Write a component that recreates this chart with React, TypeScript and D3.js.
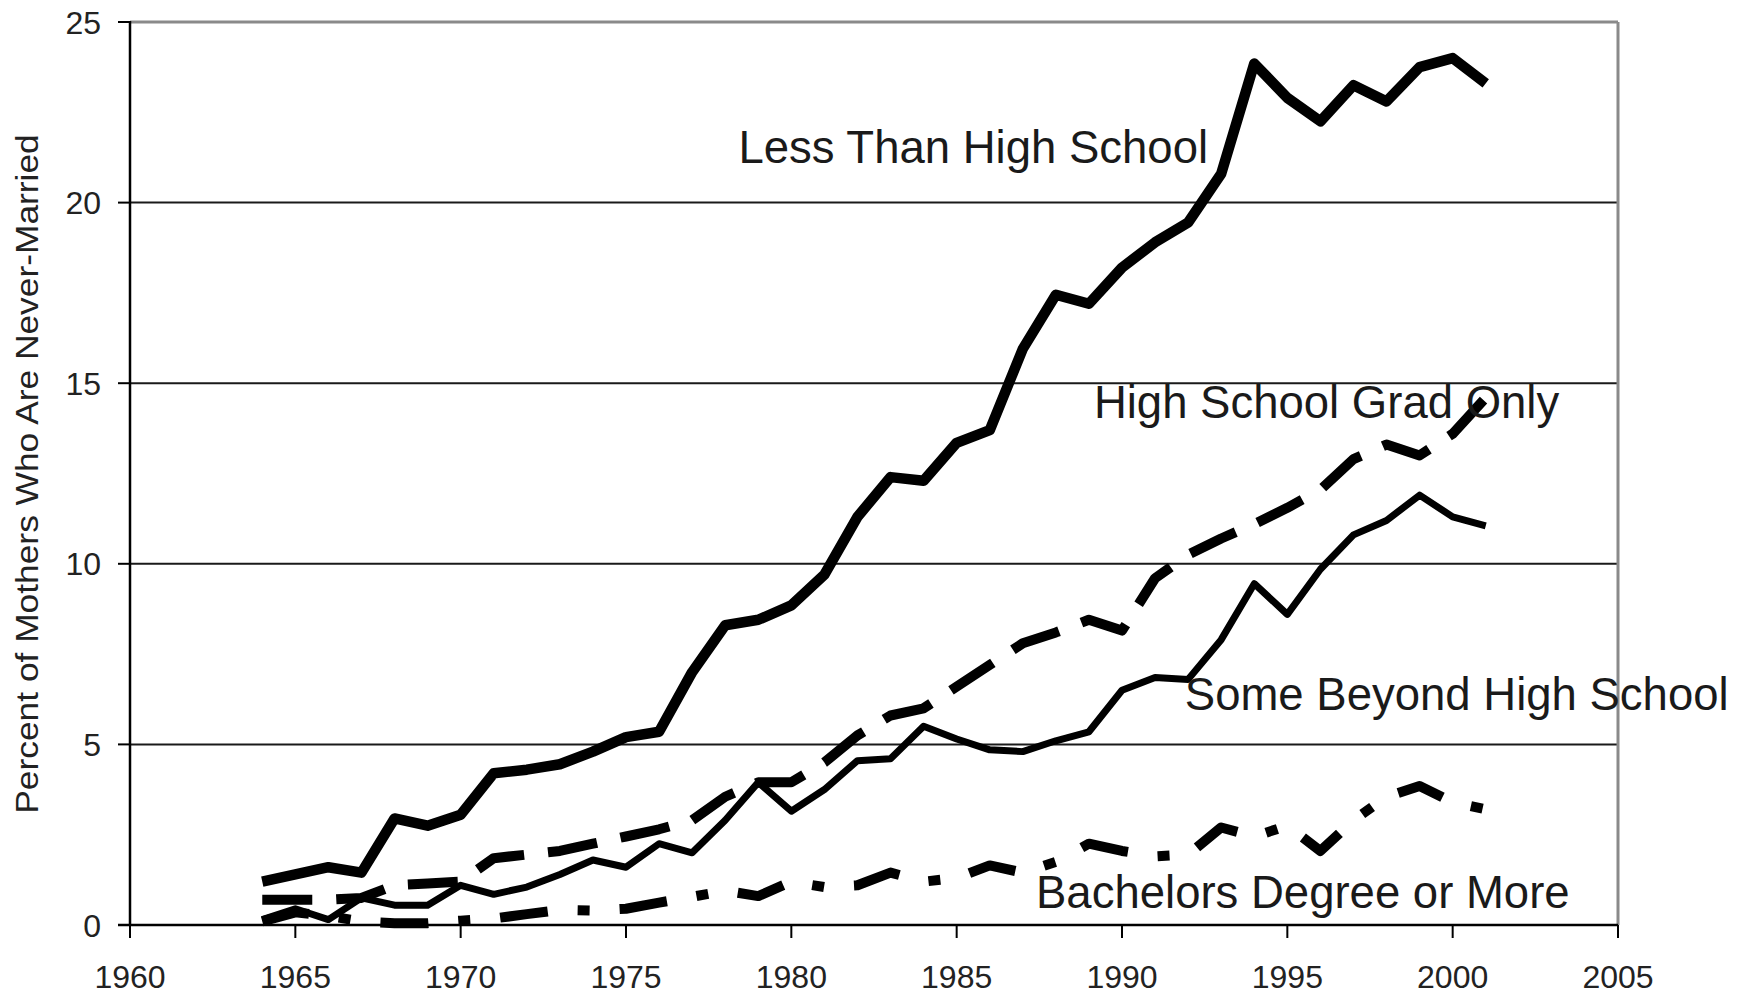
import React from 'react';
import * as d3 from 'd3';

const years = d3.range(1964, 2002);

const lessThanHS = [1.2, 1.4, 1.6, 1.45, 2.95, 2.75, 3.05, 4.2, 4.3, 4.45, 4.8, 5.2, 5.35, 7.0, 8.3, 8.45, 8.85, 9.7, 11.3, 12.4, 12.3, 13.35, 13.7, 15.95, 17.45, 17.2, 18.2, 18.9, 19.45, 20.8, 23.85, 22.9, 22.25, 23.25, 22.8, 23.75, 24.0, 23.3];
const hsGradOnly = [0.7, 0.7, 0.7, 0.75, 1.1, 1.15, 1.2, 1.85, 1.95, 2.05, 2.25, 2.45, 2.65, 2.9, 3.55, 3.95, 3.95, 4.5, 5.25, 5.8, 6.0, 6.6, 7.2, 7.8, 8.1, 8.45, 8.15, 9.6, 10.25, 10.7, 11.1, 11.55, 12.05, 12.9, 13.3, 13.0, 13.6, 14.6];
const someBeyond = [0.15, 0.45, 0.15, 0.75, 0.55, 0.55, 1.1, 0.85, 1.05, 1.4, 1.8, 1.6, 2.25, 2.0, 2.9, 3.95, 3.15, 3.75, 4.55, 4.6, 5.5, 5.15, 4.85, 4.8, 5.1, 5.35, 6.5, 6.85, 6.8, 7.9, 9.45, 8.6, 9.85, 10.8, 11.2, 11.9, 11.3, 11.05];
const bachelors = [0.1, 0.35, 0.25, 0.1, 0.05, 0.05, 0.12, 0.18, 0.3, 0.42, 0.4, 0.45, 0.62, 0.78, 0.95, 0.8, 1.2, 1.05, 1.1, 1.45, 1.2, 1.3, 1.65, 1.45, 1.75, 2.25, 2.05, 1.9, 1.95, 2.7, 2.45, 2.75, 2.05, 2.9, 3.55, 3.85, 3.4, 3.2];

const xTicks = [1960, 1965, 1970, 1975, 1980, 1985, 1990, 1995, 2000, 2005];
const yTicks = [0, 5, 10, 15, 20, 25];
const yTitle = 'Percent of Mothers Who Are Never-Married';

// series labels, placed by data coords (year of text start, value at baseline)
const labels = [
  { text: 'Less Than High School', year: 1978.4, value: 21.1 },
  { text: 'High School Grad Only', year: 1989.15, value: 14.05 },
  { text: 'Some Beyond High School', year: 1991.9, value: 5.95 },
  { text: 'Bachelors Degree or More', year: 1987.4, value: 0.47 },
];

const W = 1738;
const H = 1002;
const left = 130, right = 1618, top = 22, bottom = 925;
const font = '"Liberation Sans", Arial, sans-serif';

export default function App() {
  const x = d3.scaleLinear().domain([1960, 2005]).range([left, right]);
  const y = d3.scaleLinear().domain([0, 25]).range([bottom, top]);
  const line = d3.line<number>()
    .x((_, i) => x(years[i]))
    .y(d => y(d));

  const series = [
    { data: lessThanHS, width: 10.5, dash: undefined },
    { data: hsGradOnly, width: 10, dash: '50,24' },
    { data: someBeyond, width: 7, dash: undefined },
    { data: bachelors, width: 10, dash: '48,30,12,30' },
  ];

  return (
    <svg width={W} height={H} style={{ position: 'absolute', left: 0, top: 0, background: '#fff' }}>
      {/* grid */}
      {yTicks.filter(t => t > 0 && t < 25).map(t => (
        <line key={t} x1={left} x2={right} y1={y(t)} y2={y(t)} stroke="#1a1a1a" strokeWidth={2} />
      ))}
      <line x1={left} x2={right} y1={y(25)} y2={y(25)} stroke="#8a8a8a" strokeWidth={3} />
      <line x1={right} x2={right} y1={y(25)} y2={bottom} stroke="#8a8a8a" strokeWidth={3} />

      {/* axes */}
      <line x1={left} x2={left} y1={top - 1} y2={bottom + 1} stroke="#000" strokeWidth={2.5} />
      <line x1={left - 12} x2={right} y1={bottom} y2={bottom} stroke="#000" strokeWidth={2.5} />
      {yTicks.map(t => (
        <g key={t}>
          <line x1={left - 12} x2={left} y1={y(t)} y2={y(t)} stroke="#000" strokeWidth={2} />
          <text x={left - 29} y={y(t)} dy="0.36em" textAnchor="end" fontFamily={font} fontSize={32} fill="#222">{t}</text>
        </g>
      ))}
      {xTicks.map(t => (
        <g key={t}>
          <line x1={x(t)} x2={x(t)} y1={bottom} y2={bottom + 13} stroke="#000" strokeWidth={2} />
          <text x={x(t)} y={988} textAnchor="middle" fontFamily={font} fontSize={32} fill="#222">{t}</text>
        </g>
      ))}
      <text transform={`translate(38,474) rotate(-90) scale(1.14,1)`} textAnchor="middle" fontFamily={font} fontSize={31} fill="#222">{yTitle}</text>

      {/* series */}
      {series.map((s, i) => (
        <path key={i} d={line(s.data) || ''} fill="none" stroke="#000" strokeWidth={s.width}
          strokeDasharray={s.dash} strokeLinejoin="round" strokeLinecap="butt" />
      ))}

      {labels.map(l => (
        <text key={l.text} x={x(l.year)} y={y(l.value)} fontFamily={font} fontSize={45.5} fill="#1a1a1a">{l.text}</text>
      ))}
    </svg>
  );
}
